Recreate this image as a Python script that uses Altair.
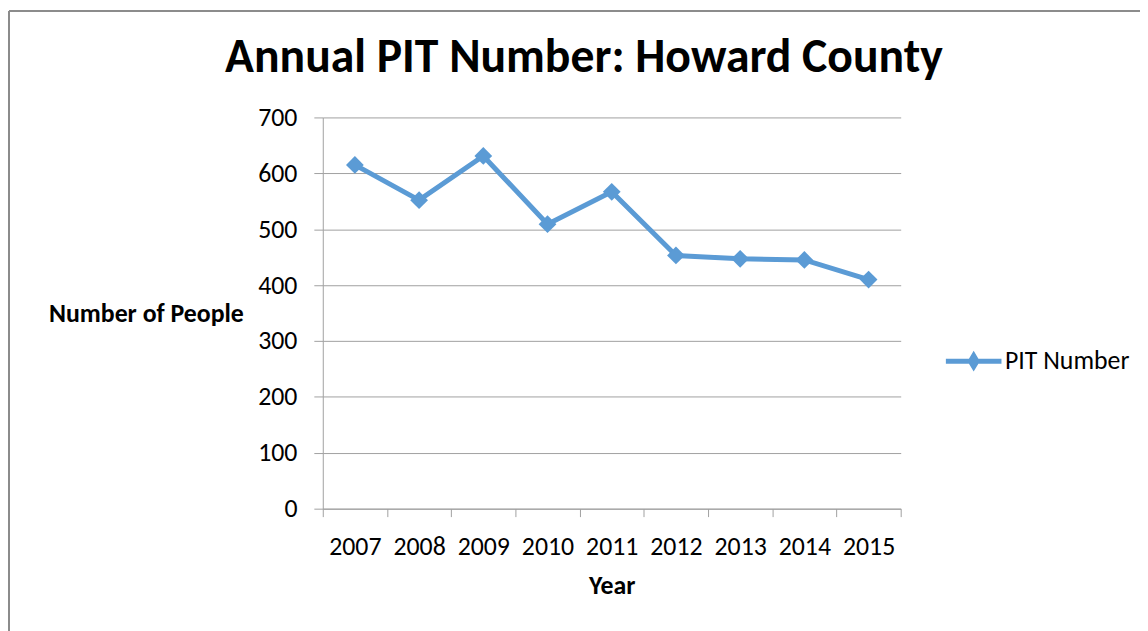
import altair as alt
import pandas as pd

years = ["2007", "2008", "2009", "2010", "2011", "2012", "2013", "2014", "2015"]
pit_number = [615, 552, 631, 509, 567, 453, 447, 445, 410]
series_name = "PIT Number"
y_ticks = [0, 100, 200, 300, 400, 500, 600, 700]

df = pd.DataFrame({"Year": years, "PIT": pit_number, "Series": [series_name] * len(years)})

BLUE = "#5B9BD5"
GRID = "#A0A0A0"
FONT = "Carlito, Open Sans"
FS = 26

x_enc = alt.X(
    "Year:O",
    scale=alt.Scale(type="band", paddingInner=0, paddingOuter=0),
    axis=alt.Axis(
        title="Year", titleFontSize=FS, titleFontWeight="bold", titleFont=FONT,
        titleColor="black", titlePadding=13,
        labelFontSize=FS, labelFont=FONT, labelColor="black", labelAngle=0,
        labelPadding=17, tickBand="extent", tickSize=8, tickColor=GRID,
        domainColor=GRID, grid=False,
    ),
)
y_enc = alt.Y(
    "PIT:Q",
    scale=alt.Scale(domain=[0, 700], nice=False, zero=True),
    axis=alt.Axis(
        values=y_ticks, title="Number of People", titleAngle=0,
        titleFontSize=FS, titleFontWeight="bold", titleFont=FONT, titleColor="black",
        titleAlign="right", titleBaseline="middle", titleX=-80, titleY=198,
        labelFontSize=FS, labelFont=FONT, labelColor="black", labelPadding=17,
        tickSize=9, tickColor=GRID, domainColor=GRID,
        grid=True, gridColor=GRID, gridWidth=1,
    ),
)
color_enc = alt.Color(
    "Series:N",
    scale=alt.Scale(range=[BLUE]),
    legend=alt.Legend(
        title=None, orient="none", legendX=625, legendY=215, padding=0,
        symbolType="M-1,0H1M-0.12,0L0,-0.2L0.12,0L0,0.2Z",
        symbolSize=3136, symbolStrokeWidth=5, symbolFillColor=BLUE,
        symbolStrokeColor=BLUE, labelFontSize=FS, labelFont=FONT,
        labelColor="black", labelOffset=1,
    ),
)

frame = alt.Chart(df).mark_rect(fill="transparent", stroke="#8C8C8C", strokeWidth=1).encode(
    x=alt.value(-316), x2=alt.value(900), y=alt.value(-107), y2=alt.value(700)
)
line = alt.Chart(df).mark_line(strokeWidth=5).encode(x=x_enc, y=y_enc, color=color_enc)
points = alt.Chart(df).mark_point(shape="diamond", filled=True, size=320, opacity=1).encode(
    x=x_enc, y=y_enc, color=color_enc
)

chart = alt.layer(frame, line, points).properties(
    width=582,
    height=394,
    padding={"left": 317, "top": 108, "right": 241, "bottom": 121},
    autosize=alt.AutoSizeParams(type="none"),
    title=alt.TitleParams(
        "Annual PIT Number: Howard County", fontSize=48, font=FONT,
        fontWeight="bold", color="black", anchor="middle", dx=-28, offset=0,
        baseline="alphabetic", dy=110,
    ),
).configure_view(stroke=None)

chart.save("out.html", embed_options={"renderer": "svg", "actions": False})
